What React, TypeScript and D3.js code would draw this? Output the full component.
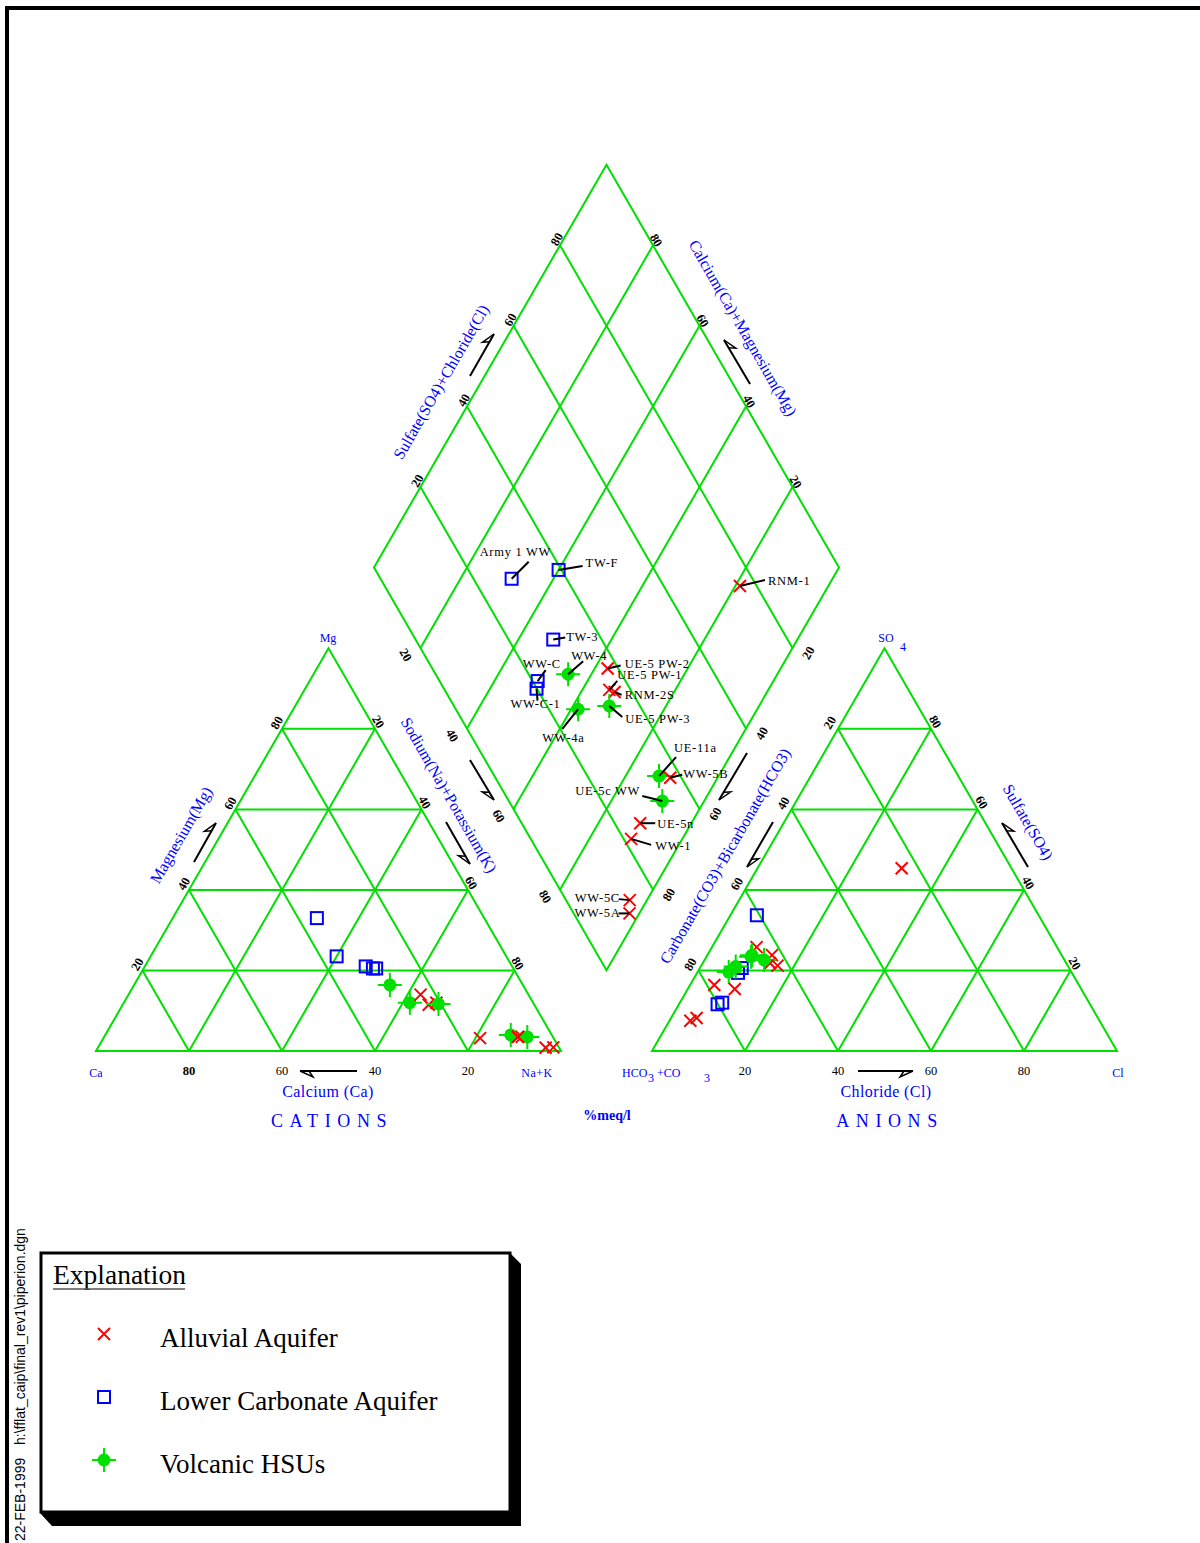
import * as d3 from "d3";
import { useEffect, useRef } from "react";

// samples, one entry per well
const sampleNames = [
  "Army 1 WW", "TW-F", "TW-3", "WW-C", "WW-C-1", "WW-4", "WW-4a",
  "UE-5 PW-2", "UE-5 PW-1", "RNM-2S", "UE-5 PW-3", "RNM-1", "UE-11a",
  "WW-5B", "UE-5c WW", "UE-5n", "WW-1", "WW-5C", "WW-5A",
];
const sampleGroups = [
  "carbonate", "carbonate", "carbonate", "carbonate", "carbonate", "volcanic", "volcanic",
  "alluvial", "alluvial", "alluvial", "volcanic", "alluvial", "volcanic",
  "alluvial", "volcanic", "alluvial", "alluvial", "alluvial", "alluvial",
];
// percent meq/l
const magnesium = [33, 23.5, 21, 20.5, 20.5, 16.4, 12, 14, 11.5, 12, 11.7, 3.2, 4, 3.5, 3.5, 3.5, 3.5, 0.8, 0.9];
const sodiumPotassium = [31, 40, 47.5, 49.3, 50, 55, 61.5, 62.8, 65.8, 67.2, 67.8, 81, 87.2, 89.8, 91, 89, 89, 96.3, 97.9];
const sulfate = [19.4, 33.7, 20.6, 12, 11.6, 21, 19.6, 23.8, 25.8, 21.8, 23.8, 45.4, 22.6, 21.2, 23.4, 15.4, 16.4, 8.2, 7.5];
const chloride = [8.8, 5.7, 9, 9.1, 8.3, 7.5, 6.7, 13.9, 9.6, 14.5, 9.6, 31, 12.8, 16.4, 9.6, 10.1, 5.2, 5.5, 4.5];

const gridTicks = [20, 40, 60, 80];
const legendGroups = ["alluvial", "carbonate", "volcanic"];
const legendLabels = ["Alluvial Aquifer", "Lower Carbonate Aquifer", "Volcanic HSUs"];

// where the well names sit: text offset and leader end, relative to the diamond point
const labelLayout: Record<string, number[]> = {
  "Army 1 WW": [-32, -23, 17, -17],
  "TW-F": [27, -3, 24, -4],
  "TW-3": [13, 1, 12, -2],
  "WW-C": [-15, -13, 8, -11],
  "WW-C-1": [-26, 19, 1, 12],
  "WW-4": [3, -14, 15, -13],
  "WW-4a": [-36, 33, -16, 20],
  "UE-5 PW-2": [17, -1, 13, -3],
  "UE-5 PW-1": [8, -11, 8, -9],
  "RNM-2S": [10, 7, 7, 3],
  "UE-5 PW-3": [16, 17, 13, 11],
  "RNM-1": [28, -1, 25, -6],
  "UE-11a": [15, -24, 17, -19],
  "WW-5B": [13, 0, 12, -3],
  "UE-5c WW": [-87, -6, -20, -5],
  "UE-5n": [17, 5, 15, 0],
  "WW-1": [24, 11, 20, 6],
  "WW-5C": [-55, 2, -11, -1],
  "WW-5A": [-55, 4, -11, 0],
};

const GREEN = "#00e000";
const BLUE = "#0000ff";
const RED = "#ff0000";
const SERIF = "'Liberation Serif', 'Times New Roman', serif";
const SANS = "'Liberation Sans', Arial, sans-serif";

export default function App() {
  const ref = useRef<SVGSVGElement>(null);

  useEffect(() => {
    if (!ref.current) return;
    const svg = d3.select(ref.current);
    svg.selectAll("*").remove();

    const width = 1200;
    const height = 1543;
    svg.attr("width", width).attr("height", height);

    const SIDE = 465;
    const BASE_Y = 1051;
    const CAT_X0 = 96;
    const AN_X0 = 652;
    const GAP = AN_X0 - (CAT_X0 + SIDE);
    const TRI_H = (SIDE * Math.sqrt(3)) / 2;

    const sx = d3.scaleLinear().domain([0, 100]).range([0, SIDE]);
    const sy = d3.scaleLinear().domain([0, 100]).range([0, TRI_H]);

    const catPos = (mg: number, nak: number) => [CAT_X0 + sx(nak) + sx(mg) / 2, BASE_Y - sy(mg)];
    const anPos = (so4: number, cl: number) => [AN_X0 + sx(cl) + sx(so4) / 2, BASE_Y - sy(so4)];
    const DBX = CAT_X0 + SIDE + GAP / 2;
    const DBY = BASE_Y - sy((GAP / SIDE) * 100) - 2;
    // c = Na+K, a = SO4+Cl
    const diaPos = (c: number, a: number) => [DBX + (sx(a) - sx(100 - c)) / 2, DBY - sy(a + 100 - c)];

    const line = d3.line();

    // frame
    svg.append("path")
      .attr("d", `M7,1543 L7,8 L1200,8`)
      .attr("fill", "none")
      .attr("stroke", "#000")
      .attr("stroke-width", 4);

    const grid = svg.append("g")
      .attr("fill", "none")
      .attr("stroke", GREEN)
      .attr("stroke-width", 2);

    const seg = (p: number[], q: number[]) => {
      grid.append("path").attr("d", line([p as [number, number], q as [number, number]]));
    };

    // cation triangle
    grid.append("path").attr("d", line([catPos(0, 0), catPos(0, 100), catPos(100, 0)] as any) + "Z");
    gridTicks.forEach(k => {
      seg(catPos(k, 0), catPos(k, 100 - k));
      seg(catPos(0, k), catPos(100 - k, k));
      seg(catPos(0, 100 - k), catPos(100 - k, 0));
    });
    // anion triangle
    grid.append("path").attr("d", line([anPos(0, 0), anPos(0, 100), anPos(100, 0)] as any) + "Z");
    gridTicks.forEach(k => {
      seg(anPos(k, 0), anPos(k, 100 - k));
      seg(anPos(0, k), anPos(100 - k, k));
      seg(anPos(0, 100 - k), anPos(100 - k, 0));
    });
    // diamond
    grid.append("path").attr("d", line([diaPos(100, 0), diaPos(0, 0), diaPos(0, 100), diaPos(100, 100)] as any) + "Z");
    gridTicks.forEach(k => {
      seg(diaPos(k, 0), diaPos(k, 100));
      seg(diaPos(0, k), diaPos(100, k));
    });

    // tick labels
    const ticks = svg.append("g")
      .attr("font-family", SERIF)
      .attr("font-size", 12.5)
      .attr("fill", "#000")
      .attr("text-anchor", "middle")
      .attr("dominant-baseline", "central");

    const tick = (p: number[], dx: number, dy: number, rot: number, txt: string, bold = false) => {
      ticks.append("text")
        .attr("transform", `translate(${p[0] + dx},${p[1] + dy}) rotate(${rot})`)
        .attr("font-weight", bold ? "bold" : "normal")
        .text(txt);
    };

    gridTicks.forEach(k => {
      // cation
      tick(catPos(k, 0), -5, -6, -60, String(k), true);
      tick(catPos(100 - k, k), 3, -7, 60, String(k), true);
      tick([CAT_X0 + sx(100 - k), BASE_Y], 0, 20, 0, String(k), k === 80);
      // anion
      tick(anPos(100 - k, 0), -8, -6, -60, String(k), true);
      tick(anPos(k, 100 - k), 4, -7, 60, String(k), true);
      tick([AN_X0 + sx(k), BASE_Y], 0, 20, 0, String(k));
      // diamond
      tick(diaPos(0, k), -3, -6, -60, String(k), true);
      tick(diaPos(100 - k, 100), 3, -5, 60, String(k), true);
      tick(diaPos(k, 0), -15, 7, 60, String(k), true);
      tick(diaPos(100, 100 - k), 16, 5, -60, String(k), true);
    });

    // arrows
    const arrows = [
      [470, 376, 494, 334, 1],
      [750, 384, 724, 340, -1],
      [194, 862, 216, 823, 1],
      [446, 822, 470, 864, -1],
      [470, 760, 494, 800, -1],
      [747, 753, 719, 800, 1],
      [773, 822, 747, 867, 1],
      [1028, 867, 1002, 823, -1],
      [357, 1071, 300, 1071, 1],
      [858, 1071, 913, 1071, -1],
    ];
    const arrowG = svg.append("g").attr("fill", "none").attr("stroke", "#000").attr("stroke-width", 2);
    arrows.forEach(([x1, y1, x2, y2, side]) => {
      const len = Math.hypot(x2 - x1, y2 - y1);
      const ux = (x2 - x1) / len, uy = (y2 - y1) / len;
      const px = uy * side, py = -ux * side;
      arrowG.append("path").attr("d", `M${x1},${y1} L${x2},${y2}`);
      arrowG.append("path")
        .attr("stroke-width", 1.5)
        .attr("d", `M${x2},${y2} L${x2 - ux * 13 + px * 6},${y2 - uy * 13 + py * 6} L${x2 - ux * 9},${y2 - uy * 9}`);
    });

    // axis titles
    const titles = svg.append("g")
      .attr("font-family", SERIF)
      .attr("fill", BLUE)
      .attr("text-anchor", "middle")
      .attr("dominant-baseline", "central");
    const rotTitle = (x: number, y: number, rot: number, txt: string, size = 16) => {
      titles.append("text")
        .attr("transform", `translate(${x},${y}) rotate(${rot})`)
        .attr("font-size", size)
        .text(txt);
    };
    rotTitle(441, 382, -60, "Sulfate(SO4)+Chloride(Cl)");
    rotTitle(743, 328, 60, "Calcium(Ca)+Magnesium(Mg)");
    rotTitle(181, 835, -60, "Magnesium(Mg)");
    rotTitle(449, 795, 60, "Sodium(Na)+Potassium(K)");
    rotTitle(725, 856, -60, "Carbonate(CO3)+Bicarbonate(HCO3)");
    rotTitle(1028, 822, 60, "Sulfate(SO4)");

    const plain = (x: number, y: number, txt: string, size: number, opts: any = {}) => {
      const t = svg.append("text")
        .attr("x", x)
        .attr("y", y)
        .attr("font-family", SERIF)
        .attr("font-size", size)
        .attr("fill", opts.fill || BLUE)
        .attr("text-anchor", opts.anchor || "middle")
        .text(txt);
      if (opts.spacing) t.attr("letter-spacing", opts.spacing);
      if (opts.weight) t.attr("font-weight", opts.weight);
      return t;
    };
    plain(328, 1097, "Calcium (Ca)", 16, { spacing: 0.4 });
    plain(886, 1097, "Chloride (Cl)", 16, { spacing: 0.4 });
    plain(332, 1127, "CATIONS", 18, { spacing: 6.6 });
    plain(890, 1127, "ANIONS", 18, { spacing: 6.6 });
    plain(607, 1120, "%meq/l", 14, { weight: "bold" });

    // vertex labels
    plain(96, 1077, "Ca", 12);
    plain(537, 1077, "Na+K", 12, { spacing: 0.5 });
    plain(1118, 1077, "Cl", 12);
    plain(328, 642, "Mg", 12);
    plain(886, 642, "SO", 12);
    plain(903, 651, "4", 12);
    plain(622, 1077, "HCO", 12, { anchor: "start" });
    plain(648, 1082, "3", 12, { anchor: "start" });
    plain(657, 1077, "+CO", 12, { anchor: "start" });
    plain(704, 1082, "3", 12, { anchor: "start" });

    // markers
    const marker = (g: any, group: string, x: number, y: number) => {
      if (group === "alluvial") {
        g.append("path")
          .attr("d", `M${x - 6},${y - 6} L${x + 6},${y + 6} M${x - 6},${y + 6} L${x + 6},${y - 6}`)
          .attr("stroke", RED)
          .attr("stroke-width", 2)
          .attr("fill", "none");
      } else if (group === "carbonate") {
        g.append("rect")
          .attr("x", x - 6)
          .attr("y", y - 6)
          .attr("width", 12)
          .attr("height", 12)
          .attr("fill", "none")
          .attr("stroke", BLUE)
          .attr("stroke-width", 2);
      } else {
        g.append("path")
          .attr("d", `M${x - 12},${y} L${x + 12},${y} M${x},${y - 12} L${x},${y + 12}`)
          .attr("stroke", GREEN)
          .attr("stroke-width", 2);
        g.append("circle")
          .attr("cx", x)
          .attr("cy", y)
          .attr("r", 6.5)
          .attr("fill", GREEN);
      }
    };

    const pts = svg.append("g");
    sampleNames.forEach((name, i) => {
      const c = catPos(magnesium[i], sodiumPotassium[i]);
      const a = anPos(sulfate[i], chloride[i]);
      const d = diaPos(sodiumPotassium[i], sulfate[i] + chloride[i]);
      marker(pts, sampleGroups[i], c[0], c[1]);
      marker(pts, sampleGroups[i], a[0], a[1]);
      marker(pts, sampleGroups[i], d[0], d[1]);
    });

    // well labels with leaders
    const lbl = svg.append("g");
    sampleNames.forEach((name, i) => {
      const d = diaPos(sodiumPotassium[i], sulfate[i] + chloride[i]);
      const [tx, ty, lx, ly] = labelLayout[name];
      lbl.append("path")
        .attr("d", `M${d[0]},${d[1]} L${d[0] + lx},${d[1] + ly}`)
        .attr("stroke", "#000")
        .attr("stroke-width", 2);
      lbl.append("text")
        .attr("x", d[0] + tx)
        .attr("y", d[1] + ty)
        .attr("font-family", SERIF)
        .attr("font-size", 12.5)
        .attr("letter-spacing", 0.7)
        .attr("fill", "#000")
        .text(name);
    });

    // side stamp
    svg.append("text")
      .attr("transform", "translate(25,1541) rotate(-90)")
      .attr("font-family", SANS)
      .attr("font-size", 14)
      .text("22-FEB-1999");
    svg.append("text")
      .attr("transform", "translate(25,1445) rotate(-90)")
      .attr("font-family", SANS)
      .attr("font-size", 14)
      .text("h:\\fflat_caip\\final_rev1\\piperion.dgn");

    // legend box
    const lg = svg.append("g");
    lg.append("path")
      .attr("d", "M510,1253 L521,1264 L521,1526 L52,1526 L40,1513 L510,1513 Z")
      .attr("fill", "#000");
    lg.append("rect")
      .attr("x", 41)
      .attr("y", 1253)
      .attr("width", 469)
      .attr("height", 259)
      .attr("fill", "#fff")
      .attr("stroke", "#000")
      .attr("stroke-width", 3);
    lg.append("text")
      .attr("x", 53)
      .attr("y", 1284)
      .attr("font-family", SERIF)
      .attr("font-size", 27.5)
      .text("Explanation");
    lg.append("path")
      .attr("d", "M53,1289 L185,1289")
      .attr("stroke", "#555")
      .attr("stroke-width", 1.5);
    legendGroups.forEach((group, i) => {
      const y = 1334 + i * 63;
      marker(lg, group, 104, y);
      lg.append("text")
        .attr("x", 160)
        .attr("y", y + 13)
        .attr("font-family", SERIF)
        .attr("font-size", 27)
        .text(legendLabels[i]);
    });
  }, []);

  return <svg ref={ref} style={{ position: "absolute", left: 0, top: 0, background: "#fff" }} />;
}
